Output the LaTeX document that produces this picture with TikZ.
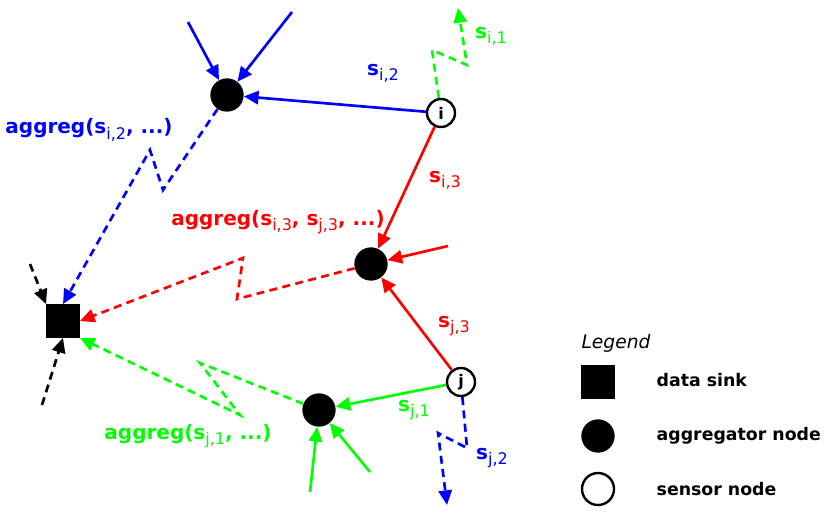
\documentclass[tikz,border=0pt]{standalone}
\usepackage{fontspec}
\setmainfont{DejaVu Sans}
\usetikzlibrary{arrows.meta}

\newcommand{\sub}[1]{\raisebox{-4pt}{\fontsize{12}{13}\mdseries\selectfont #1}}

\begin{document}
\begin{tikzpicture}[
        x=0.75pt, y=-0.75pt,
        font=\bfseries\fontsize{15}{17}\selectfont,
        agg/.style={
            circle,
            fill=black,
            minimum size=25pt,
            inner sep=0pt
        },
        sensor/.style={
            circle,
            draw=black,
            line width=1.8pt,
            fill=white,
            minimum size=21pt,
            inner sep=0pt,
            font=\bfseries\fontsize{12}{13}\selectfont
        },
        sink/.style={
            rectangle,
            fill=black,
            minimum size=25pt,
            inner sep=0pt
        },
        link/.style={
            line width=2pt,
            -{Triangle[length=11pt,width=10pt]}
        },
        radio/.style={
            link,
            dash pattern=on 6pt off 4pt
        },
    ]
        \useasboundingbox (0,0) rectangle (830,514);

        % Knoten
        \node [sink] (s) at (63,321) {};
        \node [agg] (a1) at (227,95) {};
        \node [agg] (a2) at (371,264) {};
        \node [agg] (a3) at (319,410) {};
        \node [sensor] (i) at (441,113) {i};
        \node [sensor] (j) at (461,382) {j};

        % freie Enden
        \coordinate (b1) at (188,22);
        \coordinate (b2) at (292,12);
        \coordinate (r1) at (448,246);
        \coordinate (g1) at (310,492);
        \coordinate (g2) at (370,472);
        \coordinate (k1) at (30,264);
        \coordinate (k2) at (42,405);
        \coordinate (gi) at (458,8);
        \coordinate (bj) at (447,505);

        % Zweig i
        \draw [link, blue] (i) -- (a1);
        \node [blue] (li2) at (383,73) {s\sub{i,2}};
        \draw [link, blue] (b1) -- (a1);
        \draw [link, blue] (b2) -- (a1);
        \draw [radio, green] (i) -- (432,50) -- (467,65) -- (gi);
        \node [green] (li1) at (491,36) {s\sub{i,1}};
        \draw [link, red] (i) -- (a2);
        \node [red] (li3) at (445,180) {s\sub{i,3}};
        \draw [link, red] (r1) -- (a2);

        % Zweig j
        \draw [link, red] (j) -- (a2);
        \node [red] (lj3) at (454,326) {s\sub{j,3}};
        \draw [link, green] (j) -- (a3);
        \node [green] (lj1) at (414,410) {s\sub{j,1}};
        \draw [link, green] (g1) -- (a3);
        \draw [link, green] (g2) -- (a3);
        \draw [radio, blue] (j) -- (467,448) -- (438,433) -- (bj);
        \node [blue] (lj2) at (492,458) {s\sub{j,2}};

        % zur Senke
        \draw [radio, blue] (a1) -- (163,190) -- (150,150) -- (s.north);
        \node [blue] (la1) at (89,130) {aggreg(s\sub{i,2}, ...)};
        \draw [radio, red] (a2) -- (237,299) -- (243,258) -- (s.east);
        \node [red] (la2) at (278,222) {aggreg(s\sub{i,3}, s\sub{j,3}, ...)};
        \draw [radio, green] (a3) -- (200,363) -- (240,415) -- (s.south east);
        \node [green] (la3) at (188,436) {aggreg(s\sub{j,1}, ...)};
        \draw [radio, black] (k1) -- (s.north west);
        \draw [radio, black] (k2) -- (s.south);

        % Legende
        \node [font=\itshape\fontsize{14}{16}\selectfont] (leg) at (616,343) {Legend};
        \node [sink] (ls) at (598,382) {};
        \node [agg] (la) at (598,436) {};
        \node [sensor, minimum size=24pt] (lsn) at (598,489) {};
        \node [right, font=\bfseries\fontsize{13}{15}\selectfont] (ts) at (652,380) {data sink};
        \node [right, font=\bfseries\fontsize{13}{15}\selectfont] (ta) at (652,436) {aggregator node};
        \node [right, font=\bfseries\fontsize{13}{15}\selectfont] (tn) at (652,489) {sensor node};
\end{tikzpicture}
\end{document}
